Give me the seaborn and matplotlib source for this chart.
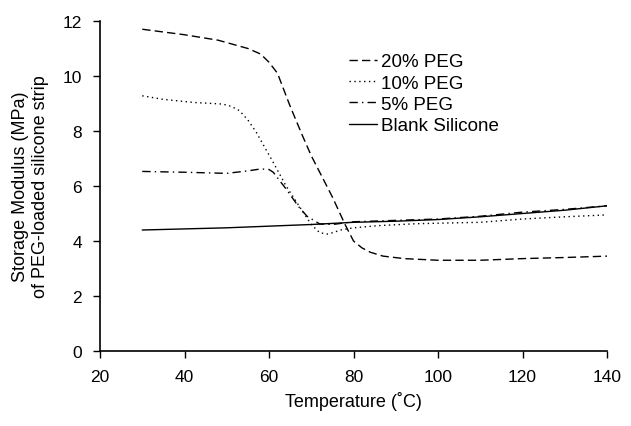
import pandas as pd
import seaborn as sns
import matplotlib.pyplot as plt

# Values
temp_20 = [30, 40, 48, 55, 58, 60, 62, 65, 68, 70, 72, 75, 78, 80, 82, 84, 87, 92, 100, 110, 120, 130, 140]
mod_20 = [11.7, 11.5, 11.3, 11.0, 10.8, 10.5, 10.1, 8.9, 7.8, 7.1, 6.5, 5.6, 4.6, 4.0, 3.75, 3.59, 3.45, 3.36, 3.3, 3.3, 3.36, 3.4, 3.45]

temp_10 = [30, 35, 42, 49, 51, 53, 55, 57, 59, 61, 64, 67, 70, 72, 74, 77, 80, 86, 95, 110, 120, 130, 140]
mod_10 = [9.28, 9.15, 9.04, 8.98, 8.9, 8.74, 8.4, 7.95, 7.4, 6.86, 6.01, 5.3, 4.6, 4.3, 4.25, 4.4, 4.48, 4.56, 4.63, 4.68, 4.8, 4.88, 4.95]

temp_5 = [30, 40, 50, 55, 58, 60, 61, 64, 67, 69, 72, 75, 80, 90, 100, 110, 120, 130, 140]
mod_5 = [6.53, 6.5, 6.46, 6.55, 6.62, 6.6, 6.5, 5.9, 5.25, 4.9, 4.62, 4.6, 4.7, 4.75, 4.8, 4.9, 5.05, 5.15, 5.28]

temp_blank = [30, 50, 70, 80, 90, 100, 110, 120, 130, 140]
mod_blank = [4.4, 4.48, 4.6, 4.68, 4.72, 4.78, 4.88, 5.0, 5.12, 5.28]

series = [
    ('20% PEG', temp_20, mod_20, (6, 3)),
    ('10% PEG', temp_10, mod_10, (1, 2.5)),
    ('5% PEG', temp_5, mod_5, (6, 3, 1, 3)),
    ('Blank Silicone', temp_blank, mod_blank, None),
]

sns.set_style('ticks', {'axes.edgecolor': 'black', 'xtick.color': 'black', 'ytick.color': 'black',
                        'text.color': 'black', 'axes.labelcolor': 'black'})
plt.rcParams['font.family'] = ['Liberation Sans', 'DejaVu Sans']

fig = plt.figure(figsize=(6.31, 4.27), dpi=100)
ax = fig.add_axes([0.1585, 0.1756, 0.8035, 0.7729])

for name, t, m, dash in series:
    df = pd.DataFrame({'Temperature': t, 'Modulus': m})
    sns.lineplot(data=df, x='Temperature', y='Modulus', ax=ax, color='black',
                 linewidth=1, label=name)
    if dash is not None:
        ax.lines[-1].set_dashes(dash)

ax.set_xlim(20, 140)
ax.set_ylim(0, 12)
ax.set_xticks(range(20, 141, 20))
ax.set_yticks(range(0, 13, 2))
ax.tick_params(labelsize=12.5, length=5, width=1, colors='black')
ax.tick_params(axis='x', pad=8)
ax.tick_params(axis='y', pad=8)
for s in ['left', 'bottom']:
    ax.spines[s].set_linewidth(1.2)
sns.despine(ax=ax)

ax.set_xlabel('Temperature (˚C)', fontsize=13, labelpad=5)
ax.set_ylabel('Storage Modulus (MPa)\nof PEG-loaded silicone strip', fontsize=13, labelpad=10)

ax.legend(loc='upper left', bbox_to_anchor=(0.538, 0.895), bbox_transform=fig.transFigure,
          frameon=False, fontsize=13.5, handlelength=1.5, handletextpad=0.2,
          labelspacing=0.22, borderpad=0, labelcolor='black')

fig.savefig('out.png', dpi=100)
